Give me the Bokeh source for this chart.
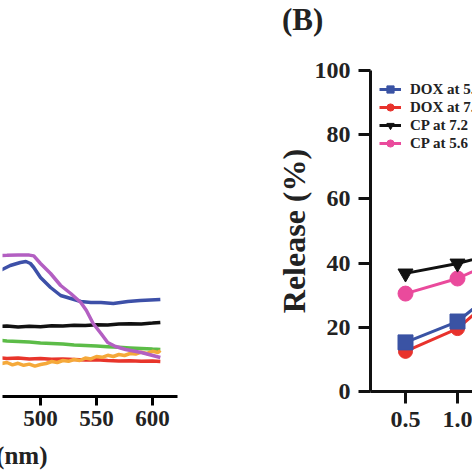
from bokeh.plotting import figure
from bokeh.layouts import row, column
from bokeh.models import Label, Legend, LegendItem, FixedTicker, PrintfTickFormatter
from bokeh.embed import file_html
from bokeh.resources import INLINE

# ---------------- Panel A (UV-vis spectra, partially visible) ----------------
wl_purple = [460, 470, 480, 490, 494, 500, 509, 518, 527, 536, 541, 547, 554, 560, 567, 576, 590, 607]
abs_purple = [0.705, 0.706, 0.708, 0.707, 0.703, 0.665, 0.615, 0.555, 0.515, 0.47, 0.43, 0.365, 0.315, 0.27, 0.25, 0.235, 0.22, 0.195]

wl_blue = [460, 464, 473, 482, 487, 491, 494, 500, 509, 518, 527, 536, 545, 554, 565, 578, 589, 607]
abs_blue = [0.615, 0.63, 0.655, 0.67, 0.675, 0.665, 0.645, 0.595, 0.545, 0.505, 0.49, 0.475, 0.47, 0.47, 0.465, 0.475, 0.48, 0.485]

wl_10 = [460, 470, 480, 490, 500, 510, 520, 530, 540, 550, 560, 570, 580, 590, 600, 607]
abs_black = [0.35, 0.352, 0.347, 0.351, 0.349, 0.354, 0.352, 0.356, 0.355, 0.359, 0.358, 0.362, 0.364, 0.363, 0.367, 0.37]
abs_green = [0.283, 0.278, 0.275, 0.272, 0.268, 0.265, 0.262, 0.258, 0.255, 0.252, 0.249, 0.246, 0.243, 0.24, 0.237, 0.235]
abs_red = [0.195, 0.19, 0.192, 0.188, 0.19, 0.186, 0.188, 0.185, 0.182, 0.184, 0.18, 0.178, 0.179, 0.176, 0.177, 0.175]

wl_orange = [460, 465, 470, 475, 480, 485, 490, 495, 500, 505, 510, 515, 520, 525, 530, 535,
             540, 545, 550, 555, 560, 565, 570, 575, 580, 585, 590, 595, 600, 605, 607]
abs_orange = [0.172, 0.165, 0.17, 0.158, 0.166, 0.156, 0.162, 0.152, 0.16, 0.165, 0.175, 0.17,
              0.18, 0.176, 0.185, 0.18, 0.192, 0.188, 0.2, 0.196, 0.206, 0.2, 0.21, 0.205,
              0.215, 0.212, 0.222, 0.215, 0.226, 0.22, 0.23]

wl_ticks = [500, 550, 600]

# ---------------- Panel B (release) ----------------
time_h = [0.5, 1.0, 1.5]
dox_56 = [15.3, 21.8, 35.0]
dox_72 = [12.5, 19.6, 33.6]
cp_72 = [36.8, 39.9, 44.0]
cp_56 = [30.5, 35.2, 42.7]
time_ticks = [0.5, 1.0, 1.5, 2.0]
rel_ticks = [0, 20, 40, 60, 80, 100]

SERIF = "Liberation Serif"
DARK = "#222222"

# ---------- left figure ----------
pa = figure(width=240, height=472, x_range=(466.07, 622.32), y_range=(0, 1.98),
            output_backend="svg", toolbar_location=None, title=None,
            min_border_left=2, min_border_right=63,
            min_border_top=0, min_border_bottom=76)
pa.outline_line_color = None
pa.grid.visible = False
pa.yaxis.visible = False

pa.line(wl_10, abs_green, line_color="#5cbc48", line_width=3.5)
pa.line(wl_10, abs_red, line_color="#e8352b", line_width=3.5)
pa.line(wl_orange, abs_orange, line_color="#f5a93a", line_width=3.5)
pa.line(wl_10, abs_black, line_color="#111111", line_width=3.5)
pa.line(wl_blue, abs_blue, line_color="#3d50a8", line_width=3.5)
pa.line(wl_purple, abs_purple, line_color="#b35fc2", line_width=3.5)

xa = pa.xaxis[0]
xa.ticker = FixedTicker(ticks=wl_ticks)
xa.minor_tick_line_color = None
xa.major_tick_in = 0
xa.major_tick_out = 9
xa.axis_line_width = 3
xa.major_tick_line_width = 3
xa.axis_line_color = "black"
xa.major_tick_line_color = "black"
xa.major_label_text_font = SERIF
xa.major_label_text_font_style = "bold"
xa.major_label_text_font_size = "23px"
xa.major_label_text_color = DARK
xa.major_label_standoff = 5

pa.add_layout(Label(x=506.25, y=-0.295, text="Wavelength (nm)", text_align="right",
                    text_baseline="middle", text_font=SERIF, text_font_style="bold",
                    text_font_size="25px", text_color=DARK), "below")

# ---------- right figure ----------
pb = figure(width=232, height=472, x_range=(0.16346, 1.14423), y_range=(0, 100),
            output_backend="svg", toolbar_location=None, title=None,
            min_border_left=130, min_border_right=0, min_border_top=70, min_border_bottom=81)
pb.outline_line_color = None
pb.grid.visible = False

r_red_l = pb.line(time_h, dox_72, line_color="#e8322c", line_width=3)
r_red_m = pb.scatter(time_h, dox_72, marker="circle", size=14, color="#e8322c")
r_blue_l = pb.line(time_h, dox_56, line_color="#3a53a4", line_width=3)
r_blue_m = pb.scatter(time_h, dox_56, marker="square", size=15, color="#3a53a4")
r_pink_l = pb.line(time_h, cp_56, line_color="#ea4a9c", line_width=3)
r_pink_m = pb.scatter(time_h, cp_56, marker="circle", size=15, color="#ea4a9c")
r_blk_l = pb.line(time_h, cp_72, line_color="#111111", line_width=3)
r_blk_m = pb.scatter(time_h, cp_72, marker="inverted_triangle", size=15, color="#111111")

for ax in (pb.xaxis[0], pb.yaxis[0]):
    ax.minor_tick_line_color = None
    ax.major_tick_in = 0
    ax.major_tick_out = 12
    ax.axis_line_width = 3
    ax.major_tick_line_width = 3
    ax.axis_line_color = "#111111"
    ax.major_tick_line_color = "#111111"
    ax.major_label_text_font = SERIF
    ax.major_label_text_font_style = "bold"
    ax.major_label_text_font_size = "24px"
    ax.major_label_text_color = DARK

pb.xaxis[0].major_label_standoff = 8
pb.yaxis[0].major_label_standoff = 8
pb.xaxis[0].ticker = FixedTicker(ticks=time_ticks)
pb.xaxis[0].formatter = PrintfTickFormatter(format="%.1f")
pb.yaxis[0].ticker = FixedTicker(ticks=rel_ticks)
pb.yaxis[0].axis_label = "Release (%)"
pb.yaxis[0].axis_label_text_font = SERIF
pb.yaxis[0].axis_label_text_font_style = "bold"
pb.yaxis[0].axis_label_text_font_size = "32px"
pb.yaxis[0].axis_label_text_color = DARK
pb.yaxis[0].axis_label_standoff = 0

legend = Legend(items=[
    LegendItem(label="DOX at 5.6", renderers=[r_blue_l, r_blue_m]),
    LegendItem(label="DOX at 7.2", renderers=[r_red_l, r_red_m]),
    LegendItem(label="CP at 7.2", renderers=[r_blk_l, r_blk_m]),
    LegendItem(label="CP at 5.6", renderers=[r_pink_l, r_pink_m]),
], location=(9, 239), orientation="vertical",
    label_text_font=SERIF, label_text_font_style="bold", label_text_font_size="15px",
    label_text_color=DARK, glyph_width=22, glyph_height=18, label_height=18,
    spacing=0, padding=0, margin=0, label_standoff=9,
    border_line_color=None, background_fill_alpha=0)
pb.add_layout(legend)

pb.add_layout(Label(x=-0.49, y=116, text="(B)", text_align="center", text_baseline="middle",
                    text_font=SERIF, text_font_style="bold", text_font_size="31px",
                    text_color=DARK), "above")

layout = row(column(pa), column(pb))
open("out.html", "w").write(file_html(layout, INLINE))
